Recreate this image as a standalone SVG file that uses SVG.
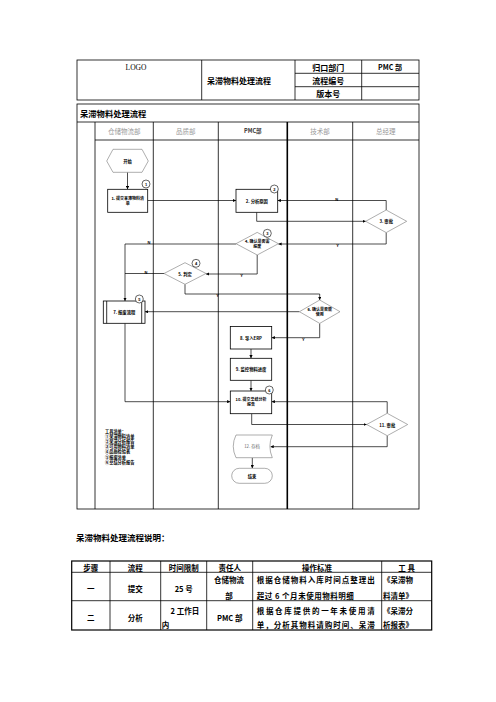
<svg xmlns="http://www.w3.org/2000/svg" width="496" height="702" viewBox="0 0 496 702">
<style>
.ln{stroke:#000;stroke-width:0.8;fill:none}
.cn{stroke:#000;stroke-width:0.7;fill:none}
.box{fill:#fff;stroke:#000;stroke-width:0.8}
.dia{fill:#fff;stroke:#777;stroke-width:0.6}
.t{font-family:"Noto Sans CJK SC","Noto Sans",sans-serif;font-weight:bold;font-size:4.3px;text-anchor:middle;dominant-baseline:central;fill:#000}
.t2{font-family:"Noto Sans CJK SC","Noto Sans",sans-serif;font-weight:bold;font-size:4px;text-anchor:middle;dominant-baseline:central;fill:#000}
.lb{font-family:"Liberation Sans",sans-serif;font-weight:bold;font-size:4px;text-anchor:middle;dominant-baseline:central;fill:#000}
.h{font-family:"Noto Sans CJK SC",sans-serif;font-weight:bold;font-size:8px;text-anchor:middle;dominant-baseline:central;fill:#000}
.lane{font-family:"Noto Sans CJK SC",serif;font-size:6.5px;text-anchor:middle;dominant-baseline:central;fill:#999}
.tb{font-family:"Noto Sans CJK SC",sans-serif;font-weight:bold;font-size:7.5px;text-anchor:middle;dominant-baseline:central;fill:#000}
.tl{font-family:"Noto Sans CJK SC",sans-serif;font-weight:bold;font-size:7.5px;dominant-baseline:central;fill:#000}
.ts{font-family:"Noto Sans CJK SC",sans-serif;font-weight:bold;font-size:4.2px;dominant-baseline:central;fill:#000}
.num{fill:#fff;stroke:#000;stroke-width:0.6}
</style>
<defs>
<marker id="ar" viewBox="0 0 6 6" refX="6" refY="3" markerWidth="3.2" markerHeight="3.2" orient="auto" markerUnits="userSpaceOnUse">
<path d="M0,0 L6,3 L0,6 z" fill="#000"/>
</marker>
</defs>

<g id="header">
<rect x="77" y="60" width="342" height="40" class="ln"/>
<line x1="201.7" y1="60" x2="201.7" y2="100" class="ln"/>
<line x1="295" y1="60" x2="295" y2="100" class="ln"/>
<line x1="361.7" y1="60" x2="361.7" y2="100" class="ln"/>
<line x1="295" y1="73.3" x2="419" y2="73.3" class="ln"/>
<line x1="295" y1="86.7" x2="419" y2="86.7" class="ln"/>
<text x="136" y="67" style="font-family:'Liberation Serif',serif;font-size:7.5px;text-anchor:middle;dominant-baseline:central">LOGO</text>
<text x="239" y="80" class="h">呆滞物料处理流程</text>
<text x="328.3" y="67" class="h">归口部门</text>
<text x="328.3" y="80" class="h">流程编号</text>
<text x="328.3" y="93.5" class="h">版本号</text>
<text x="390" y="67" class="h" style="font-size:7px">PMC 部</text>
</g>

<g id="frame">
<rect x="77" y="104" width="342" height="405" class="ln"/>
<line x1="77" y1="122" x2="419" y2="122" class="ln"/>
<line x1="95" y1="122" x2="95" y2="509" class="ln"/>
<line x1="95" y1="140" x2="419" y2="140" class="ln"/>
<line x1="153.3" y1="122" x2="153.3" y2="509" class="ln"/>
<line x1="218.3" y1="122" x2="218.3" y2="509" class="ln"/>
<line x1="287.3" y1="122" x2="287.3" y2="509" style="stroke:#000;stroke-width:1.6"/>
<line x1="352.7" y1="122" x2="352.7" y2="509" class="ln"/>
<text x="80" y="113" style="font-family:'Noto Sans CJK SC',sans-serif;font-weight:bold;font-size:8.3px;dominant-baseline:central">呆滞物料处理流程</text>
<text x="124.2" y="130.5" class="lane">仓储物流部</text>
<text x="185.8" y="130.5" class="lane">品质部</text>
<text x="252.8" y="130.5" class="lane" style="fill:#333;font-weight:bold;font-size:5.5px">PMC部</text>
<text x="320" y="130.5" class="lane">技术部</text>
<text x="385.8" y="130.5" class="lane">总经理</text>
</g>

<g id="connectors">
<path d="M127.5,172.3 V189.3" class="cn" marker-end="url(#ar)"/>
<path d="M147.7,200.5 H236" class="cn" marker-end="url(#ar)"/>
<path d="M386.2,210 V200.5 H277.7" class="cn" marker-end="url(#ar)"/>
<path d="M256.7,212.3 V221.3 H365.7" class="cn" marker-end="url(#ar)"/>
<path d="M386.2,232.6 V244 H278.4" class="cn" marker-end="url(#ar)"/>
<path d="M236,244 H125 V301" class="cn" marker-end="url(#ar)"/>
<path d="M257.2,255 V274 H206" class="cn" marker-end="url(#ar)"/>
<path d="M164,273.5 H125" class="cn"/>
<path d="M185,284.3 V294 H319.7 V300" class="cn" marker-end="url(#ar)"/>
<path d="M299.4,311.7 H145" class="cn" marker-end="url(#ar)"/>
<path d="M319.7,323.4 V337.7 H271.7" class="cn" marker-end="url(#ar)"/>
<path d="M251,349 V358.3" class="cn" marker-end="url(#ar)"/>
<path d="M251,380.3 V391" class="cn" marker-end="url(#ar)"/>
<path d="M125,323.3 V401.7 H230.3" class="cn" marker-end="url(#ar)"/>
<path d="M387.2,413.3 V401.7 H271.7" class="cn" marker-end="url(#ar)"/>
<path d="M251.7,413.7 V424.5 H366.7" class="cn" marker-end="url(#ar)"/>
<path d="M387.2,435.7 V446.7 H270.5" class="cn" marker-end="url(#ar)"/>
<path d="M252.3,457.7 V468.3" class="cn" marker-end="url(#ar)"/>
<text x="336.7" y="199" class="lb">N</text>
<text x="337.7" y="245.5" class="lb">Y</text>
<text x="149" y="242.5" class="lb">N</text>
<text x="241.7" y="275.5" class="lb">Y</text>
<text x="146" y="272" class="lb">N</text>
<text x="217.7" y="295.5" class="lb">Y</text>
<text x="303.3" y="339.2" class="lb">Y</text>
</g>

<g id="n-start">
<polygon points="113,149.3 142,149.3 148.3,161 142,172.3 113,172.3 106.7,161" class="dia"/>
<text x="127.5" y="161" class="t">开始</text>
</g>
<g id="n1">
<rect x="107.7" y="189.3" width="40" height="23" class="box"/>
<text x="127.7" y="197.5" class="t2">1. 提交呆滞物料清</text>
<text x="127.7" y="202.5" class="t2">单</text>
<circle cx="146" cy="184" r="4" class="num"/>
<text x="146" y="184" class="lb">1</text>
</g>
<g id="n2">
<rect x="236" y="189.3" width="41.7" height="23" class="box"/>
<text x="256.8" y="200.5" class="t">2. 分析原因</text>
<circle cx="274.3" cy="189" r="4" class="num"/>
<text x="274.3" y="189" class="lb">2</text>
</g>
<g id="n3">
<polygon points="386.2,210 406.7,221.3 386.2,232.6 365.7,221.3" class="dia"/>
<text x="386.2" y="221.3" class="t">3. 审批</text>
</g>
<g id="n4">
<polygon points="257.2,232.4 278.4,243.7 257.2,255 236,243.7" class="dia"/>
<text x="257.2" y="241.2" class="t2">4. 确认是否需</text>
<text x="257.2" y="246.3" class="t2">报废</text>
<circle cx="267.3" cy="233.3" r="4" class="num"/>
<text x="267.3" y="233.3" class="lb">3</text>
</g>
<g id="n5">
<polygon points="185,262.7 206,273.5 185,284.3 164,273.5" class="dia"/>
<text x="185" y="273.5" class="t">5. 判定</text>
<circle cx="196" cy="263.3" r="4" class="num"/>
<text x="196" y="263.3" class="lb">4</text>
</g>
<g id="n6">
<polygon points="319.7,300 340,311.7 319.7,323.4 299.4,311.7" class="dia"/>
<text x="319.7" y="309.2" class="t2">6. 确认是否能</text>
<text x="319.7" y="314.3" class="t2">使用</text>
</g>
<g id="n7">
<rect x="103.3" y="301" width="41.7" height="22.3" class="box"/>
<line x1="106.7" y1="301" x2="106.7" y2="323.3" class="ln"/>
<line x1="141.7" y1="301" x2="141.7" y2="323.3" class="ln"/>
<text x="124.2" y="312.2" class="t">7. 报废流程</text>
<circle cx="139.3" cy="299" r="4" class="num"/>
<text x="139.3" y="299" class="lb">5</text>
</g>
<g id="n8">
<rect x="230.3" y="326.5" width="41.4" height="22.5" class="box"/>
<text x="251" y="337.7" class="t">8. 导入ERP</text>
</g>
<g id="n9">
<rect x="230.3" y="358.3" width="41.4" height="22" class="box"/>
<text x="251" y="369.3" class="t">9. 监控物料进度</text>
</g>
<g id="n10">
<rect x="230.3" y="391" width="41.4" height="22.7" class="box"/>
<text x="251" y="399.3" class="t2">10. 提交总结分析</text>
<text x="251" y="404.4" class="t2">报告</text>
<circle cx="269.3" cy="390" r="4" class="num"/>
<text x="269.3" y="390" class="lb">6</text>
</g>
<g id="n11">
<polygon points="387.2,413.3 407.7,424.5 387.2,435.7 366.7,424.5" class="dia"/>
<text x="387.2" y="424.5" class="t">11. 审批</text>
</g>
<g id="n12">
<path d="M236,435 H272.3 Q267.5,446.3 272.3,457.7 H236 Q230.5,446.3 236,435 Z" class="dia"/>
<text x="252" y="446.3" class="t" style="font-weight:normal;fill:#666">12. 存档</text>
</g>
<g id="n-end">
<rect x="231.7" y="468.3" width="40.6" height="15" rx="7.5" class="dia"/>
<text x="252" y="475.8" class="t">结束</text>
</g>
<g id="tools">
<text x="105" y="431" class="ts">工具清单：</text>
<text x="105" y="436.1" class="ts">①呆滞物料清单</text>
<text x="105" y="441.2" class="ts">②呆滞分析报告</text>
<text x="105" y="446.3" class="ts">③可用物料清单</text>
<text x="105" y="451.4" class="ts">④品质检验表</text>
<text x="105" y="456.5" class="ts">⑤报废清单</text>
<text x="105" y="461.6" class="ts">⑥总结分析报告</text>
</g>

<g id="desc">
<text x="76" y="537.3" style="font-family:'Noto Sans CJK SC',sans-serif;font-weight:bold;font-size:8.5px;dominant-baseline:central">呆滞物料处理流程说明：</text>
<rect x="71.7" y="561" width="360" height="69" style="fill:none;stroke:#000;stroke-width:1.2"/>
<line x1="71.7" y1="572.3" x2="431.7" y2="572.3" class="ln"/>
<line x1="71.7" y1="600.7" x2="431.7" y2="600.7" class="ln"/>
<line x1="110" y1="561" x2="110" y2="630" class="ln"/>
<line x1="160.7" y1="561" x2="160.7" y2="630" class="ln"/>
<line x1="206.7" y1="561" x2="206.7" y2="630" class="ln"/>
<line x1="252.7" y1="561" x2="252.7" y2="630" class="ln"/>
<line x1="381.7" y1="561" x2="381.7" y2="630" class="ln"/>
<text x="90.8" y="567" class="tb">步骤</text>
<text x="135.3" y="567" class="tb">流程</text>
<text x="183.7" y="567" class="tb">时间限制</text>
<text x="229.7" y="567" class="tb">责任人</text>
<text x="317" y="567" class="tb">操作标准</text>
<text x="406.7" y="567" class="tb">工 具</text>
<text x="90.8" y="588.3" class="tb">一</text>
<text x="135.3" y="588.3" class="tb">提交</text>
<text x="183.7" y="588.3" class="tb">25 号</text>
<text x="229" y="579.3" class="tb">仓储物流</text>
<text x="229" y="595" class="tb">部</text>
<text x="256.7" y="579.3" class="tl" textLength="118" lengthAdjust="spacing">根据仓储物料入库时间点整理出</text>
<text x="256.7" y="595" class="tl" textLength="97" lengthAdjust="spacing">超过 6 个月未使用物料明细</text>
<text x="383" y="579.3" class="tl">《呆滞物</text>
<text x="383" y="595" class="tl">料清单》</text>
<text x="90.8" y="617" class="tb">二</text>
<text x="135.3" y="617" class="tb">分析</text>
<text x="170.5" y="610" class="tl">2 工作日</text>
<text x="161.7" y="624.7" class="tl">内</text>
<text x="229.7" y="617" class="tb">PMC 部</text>
<text x="256.7" y="610" class="tl" textLength="118" lengthAdjust="spacing">根据仓库提供的一年未使用清</text>
<text x="256.7" y="624.7" class="tl" textLength="118" lengthAdjust="spacing">单，分析其物料请购时间、呆滞</text>
<text x="383" y="610" class="tl">《呆滞分</text>
<text x="383" y="624.7" class="tl">析报表》</text>
</g>
</svg>
